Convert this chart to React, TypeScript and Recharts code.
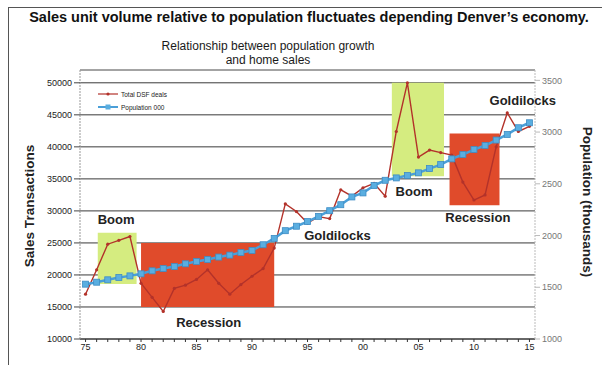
import {
  CartesianGrid,
  ComposedChart,
  Line,
  ReferenceArea,
  ReferenceDot,
  ReferenceLine,
  XAxis,
  YAxis,
} from "recharts";

const years = [
  1975, 1976, 1977, 1978, 1979, 1980, 1981, 1982, 1983, 1984, 1985, 1986,
  1987, 1988, 1989, 1990, 1991, 1992, 1993, 1994, 1995, 1996, 1997, 1998,
  1999, 2000, 2001, 2002, 2003, 2004, 2005, 2006, 2007, 2008, 2009, 2010,
  2011, 2012, 2013, 2014, 2015,
];

// total detached single family deals per year
const dsfDeals = [
  17000, 20800, 24800, 25400, 26000, 18700, 16500, 14300, 17900, 18400,
  19300, 20800, 18700, 17000, 18500, 19800, 21000, 24200, 31100, 29900,
  28100, 29100, 28800, 33300, 32300, 33600, 34300, 32300, 42400, 50000,
  38400, 39500, 39100, 38700, 34500, 31700, 32500, 40000, 45300, 42400,
  43200,
];

// metro population, thousands
const population = [
  1530, 1549, 1572, 1594, 1610, 1630, 1659, 1681, 1700, 1727, 1749, 1768,
  1792, 1811, 1836, 1856, 1911, 1972, 2047, 2090, 2135, 2185, 2240, 2298,
  2373, 2412, 2483, 2534, 2557, 2580, 2606, 2647, 2686, 2741, 2783, 2831,
  2870, 2923, 2977, 3042, 3090,
];

const salesTicks = [10000, 15000, 20000, 25000, 30000, 35000, 40000, 45000, 50000];
const popTicks = [1000, 1500, 2000, 2500, 3000, 3500];

// economic phases: [fromYear, toYear, lowSales, highSales]
const booms = [
  [1976.1, 1979.6, 18600, 26600],
  [2002.6, 2007.3, 35400, 50000],
];
const recessions = [
  [1980, 1992, 15000, 25000],
  [2007.8, 2012.3, 30900, 42100],
];

const phaseLabels = [
  { text: "Boom", year: 1977.75, sales: 28750 },
  { text: "Recession", year: 1986.1, sales: 12650 },
  { text: "Goldilocks", year: 1997.7, sales: 26100 },
  { text: "Boom", year: 2004.6, sales: 32970 },
  { text: "Recession", year: 2010.35, sales: 29060 },
  { text: "Goldilocks", year: 2014.4, sales: 47200 },
];

const data = years.map((year, i) => ({
  year,
  deals: dsfDeals[i],
  pop: population[i],
}));

const RED = "#b3322a";
const BLUE = "#4a9fd8";
const FONT = "'Liberation Sans', Arial, sans-serif";

const SquareDot = (props: any) => {
  const { cx, cy } = props;
  if (cx == null || cy == null) return null;
  return (
    <rect
      x={cx - 3}
      y={cy - 3}
      width={6}
      height={6}
      fill="#5aaee0"
      stroke="#3d8cc4"
      strokeWidth={0.8}
    />
  );
};

const SmallDot = (props: any) => {
  const { cx, cy } = props;
  if (cx == null || cy == null) return null;
  return <circle cx={cx} cy={cy} r={1.6} fill={RED} />;
};

// series key drawn inside the top-left of the plot
const SeriesKey = () => (
  <svg
    width={90}
    height={26}
    style={{ position: "absolute", left: 96, top: 88, fontFamily: FONT }}
  >
    <line x1={2} y1={6} x2={22} y2={6} stroke={RED} strokeWidth={1.2} />
    <circle cx={12} cy={6} r={1.6} fill={RED} />
    <text x={25} y={8.5} fontSize={6.5} fill="#222">
      Total DSF deals
    </text>
    <line x1={2} y1={19} x2={22} y2={19} stroke={BLUE} strokeWidth={2} />
    <rect x={9.5} y={16.5} width={5} height={5} fill="#5aaee0" />
    <text x={25} y={21.5} fontSize={6.5} fill="#222">
      Population 000
    </text>
  </svg>
);

export default function App() {
  return (
    <div
      style={{
        position: "fixed",
        left: 0,
        top: 0,
        width: 602,
        height: 365,
        background: "#fff",
        fontFamily: FONT,
        overflow: "hidden",
      }}
    >
      <div
        style={{
          position: "absolute",
          left: 8,
          top: 7,
          width: 600,
          height: 370,
          borderTop: "1.5px solid #555",
          borderLeft: "1.5px solid #555",
        }}
      />
      <div
        style={{
          position: "absolute",
          left: 0,
          width: 618,
          top: 9,
          textAlign: "center",
          fontSize: 14.5,
          fontWeight: "bold",
          color: "#111",
        }}
      >
        Sales unit volume relative to population fluctuates depending Denver’s economy.
      </div>
      <div
        style={{
          position: "absolute",
          left: 118,
          width: 300,
          top: 39,
          textAlign: "center",
          fontSize: 12,
          lineHeight: "14px",
          color: "#1a1a1a",
        }}
      >
        Relationship between population growth
        <br />
        and home sales
      </div>
      <div
        style={{
          position: "absolute",
          left: 29,
          top: 206,
          transform: "translate(-50%, -50%) rotate(-90deg)",
          whiteSpace: "nowrap",
          fontSize: 13.5,
          fontWeight: "bold",
          color: "#222",
        }}
      >
        Sales Transactions
      </div>
      <div
        style={{
          position: "absolute",
          left: 587,
          top: 202,
          transform: "translate(-50%, -50%) rotate(90deg)",
          whiteSpace: "nowrap",
          fontSize: 13.5,
          fontWeight: "bold",
          color: "#222",
        }}
      >
        Population (thousands)
      </div>

      <div style={{ position: "absolute", left: 0, top: 0 }}>
        <ComposedChart
          width={602}
          height={365}
          data={data}
          margin={{ top: 70, right: 22, left: 30, bottom: 6 }}
        >
          <CartesianGrid
            yAxisId="left"
            vertical={false}
            stroke="#3a3a3a"
            strokeWidth={1}
          />
          <XAxis
            dataKey="year"
            type="number"
            domain={[1974.5, 2015.5]}
            ticks={years}
            interval={0}
            height={20}
            tickSize={3}
            tickFormatter={(v: number) =>
              v % 5 === 0 ? String(v).slice(2) : ""
            }
            tick={{ fontSize: 9, fill: "#222", fontFamily: FONT }}
            stroke="#333"
          />
          <YAxis
            yAxisId="left"
            domain={[10000, 52000]}
            ticks={salesTicks}
            width={50}
            tickSize={6}
            tick={{ fontSize: 9, fill: "#222", fontFamily: FONT }}
            axisLine={{ stroke: "#999", strokeDasharray: "2 1" }}
            tickLine={{ stroke: "#444" }}
            allowDataOverflow
          />
          <YAxis
            yAxisId="right"
            orientation="right"
            domain={[1000, 3600]}
            ticks={popTicks}
            width={45}
            tickSize={5}
            tick={{ fontSize: 9, fill: "#777", fontFamily: FONT }}
            axisLine={{ stroke: "#bbb", strokeDasharray: "2 1" }}
            tickLine={{ stroke: "#bbb" }}
            allowDataOverflow
          />
          <ReferenceLine yAxisId="left" y={52000} stroke="#aaa" />

          {booms.map(([x1, x2, y1, y2], i) => (
            <ReferenceArea
              key={`boom-${i}`}
              yAxisId="left"
              x1={x1}
              x2={x2}
              y1={y1}
              y2={y2}
              fill="#d5ec80"
              fillOpacity={1}
              stroke="none"
            />
          ))}
          {recessions.map(([x1, x2, y1, y2], i) => (
            <ReferenceArea
              key={`rec-${i}`}
              yAxisId="left"
              x1={x1}
              x2={x2}
              y1={y1}
              y2={y2}
              fill="#e04b2b"
              fillOpacity={1}
              stroke="none"
            />
          ))}

          <Line
            yAxisId="left"
            dataKey="deals"
            name="Total DSF deals"
            stroke={RED}
            strokeWidth={1.4}
            dot={<SmallDot />}
            activeDot={false}
            isAnimationActive={false}
          />
          <Line
            yAxisId="right"
            dataKey="pop"
            name="Population 000"
            stroke={BLUE}
            strokeWidth={2.5}
            dot={<SquareDot />}
            activeDot={false}
            isAnimationActive={false}
          />

          {phaseLabels.map((p, i) => (
            <ReferenceDot
              key={`lbl-${i}`}
              yAxisId="left"
              x={p.year}
              y={p.sales}
              r={0}
              fill="none"
              stroke="none"
              ifOverflow="visible"
              label={{
                value: p.text,
                position: "center",
                fontSize: 13,
                fontWeight: "bold",
                fill: "#222",
                fontFamily: FONT,
              }}
            />
          ))}
        </ComposedChart>
      </div>
      <SeriesKey />
    </div>
  );
}
